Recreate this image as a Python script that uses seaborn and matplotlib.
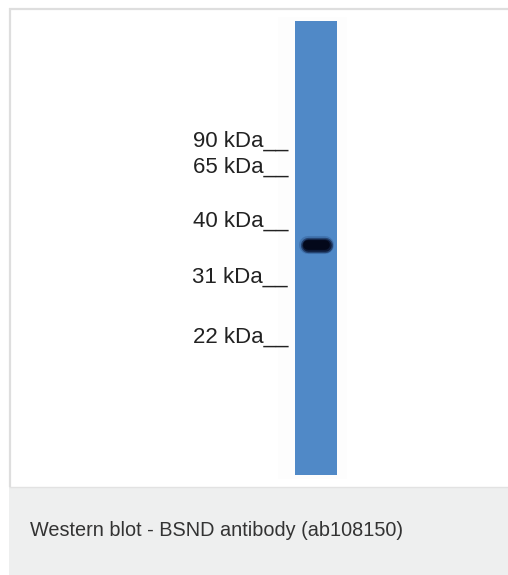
import matplotlib
matplotlib.use("Agg")
import matplotlib.pyplot as plt
import seaborn as sns

# =========================
# data read off the blot

marker_labels = ['90 kDa', '65 kDa', '40 kDa', '31 kDa', '22 kDa']
marker_pos = [147, 173, 227, 283, 343]      # baseline of each label, px from top
band_pos = 245                              # detected band, px from top
band_span = [308, 325]                      # left/right end of band core
lane_span = [295, 337]
lane_top, lane_bottom = 21, 475
caption = 'Western blot - BSND antibody (ab108150)'

W, H = 508, 575

sns.set_theme(style="white")
plt.rcParams['font.family'] = ['Liberation Sans', 'DejaVu Sans']

fig = plt.figure(figsize=(W / 100, H / 100), dpi=100)

# background axes in pixel coordinates (frame + caption strip)
bg = fig.add_axes([0, 0, 1, 1])
bg.set_xlim(0, W)
bg.set_ylim(H, 0)
bg.axis('off')
bg.add_patch(plt.Rectangle((9, 487), W - 9, H - 487, facecolor='#eeefef', edgecolor='none'))
bg.plot([9, W], [8.5, 8.5], color='#dedede', lw=1.6, solid_capstyle='butt')
bg.plot([10, 10], [8, 487], color='#dedede', lw=1.6, solid_capstyle='butt')
bg.plot([9, W], [487, 487], color='#e2e2e2', lw=1.0, solid_capstyle='butt')
# very faint halo round the lane
bg.add_patch(plt.Rectangle((278, 17), 69, 462, facecolor='#fdfdfd', edgecolor='none'))
bg.text(30, 531, caption, fontsize=14.3, color='#333333', va='center', ha='left')

# lane axes, placed exactly on the lane
ax = fig.add_axes([lane_span[0] / W, 1 - lane_bottom / H,
                   (lane_span[1] - lane_span[0]) / W, (lane_bottom - lane_top) / H])
ax.set_facecolor('#5089c7')
ax.set_xlim(lane_span)
ax.set_ylim(lane_bottom, lane_top)
ax.set_xticks([])
ax.set_yticks([])
for s in ax.spines.values():
    s.set_visible(False)

# the band: blurred layers then dark core
for lw, col, a in [(13, '#2a4f85', 0.35), (11, '#122448', 0.6), (9, '#0a1430', 0.85), (7, '#03081a', 1.0)]:
    sns.lineplot(x=band_span, y=[band_pos, band_pos], ax=ax, color=col,
                 lw=lw, alpha=a, solid_capstyle='round')

# marker labels to the left of the lane
for lab, y in zip(marker_labels, marker_pos):
    ax.text(288, y, lab + '__', fontsize=16, color='#222222',
            ha='right', va='baseline', clip_on=False)

plt.savefig('out.png', dpi=100)
plt.close()
